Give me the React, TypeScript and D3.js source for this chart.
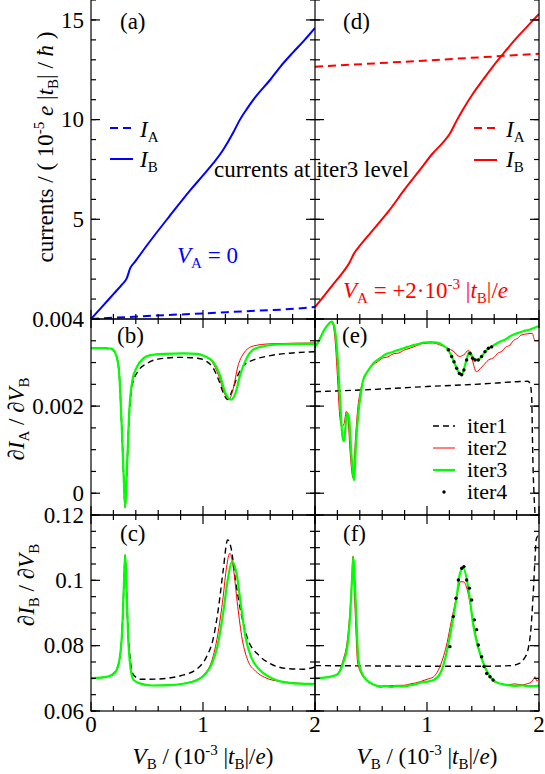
import React from 'react';
import * as d3 from 'd3';

type P = [number, number];

// ---------- data ----------
// panel (a): V_A = 0
const aIA: P[] = [[0, 0], [0.5, 0.15], [1, 0.28], [1.5, 0.42], [1.7, 0.47], [2, 0.6]];
const aIB: P[] = [[0, 0], [0.1, 0.62], [0.2, 1.25], [0.28, 1.75], [0.32, 2.05], [0.35, 2.55], [0.39, 2.85], [0.5, 3.7], [0.7, 5.15], [0.9, 6.55], [1.0, 7.2], [1.09, 7.8], [1.17, 8.4], [1.22, 8.85], [1.27, 9.35], [1.33, 10.0], [1.4, 10.6], [1.45, 11.0], [1.6, 12.0], [1.69, 12.65], [1.8, 13.35], [1.9, 13.95], [2, 14.6]];
// panel (d): V_A = +2e-3
const dIA: P[] = [[0, 12.65], [1, 12.97], [2, 13.3]];
const dIB: P[] = [[0, 0.6], [0.1, 1.3], [0.2, 2.0], [0.27, 2.5], [0.31, 2.85], [0.35, 3.3], [0.39, 3.6], [0.5, 4.35], [0.67, 5.5], [0.8, 6.5], [0.94, 7.5], [1.05, 8.3], [1.15, 8.9], [1.205, 9.3], [1.26, 9.9], [1.32, 10.5], [1.41, 11.3], [1.5, 12.0], [1.6, 12.75], [1.68, 13.3], [1.8, 14.1], [1.9, 14.7], [2, 15.3]];

// panel (b): dIA/dVB, V_A = 0
const bIter1: P[] = [[0, 0.00333], [0.1, 0.00333], [0.18, 0.00332], [0.22, 0.0032], [0.25, 0.0028], [0.27, 0.0018], [0.29, 0.0005], [0.305, -0.0003], [0.32, 0.0005], [0.34, 0.0017], [0.37, 0.0025], [0.42, 0.0028], [0.5, 0.00298], [0.6, 0.00308], [0.8, 0.00312], [0.95, 0.0031], [1.03, 0.00303], [1.09, 0.00288], [1.14, 0.0026], [1.19, 0.00225], [1.22, 0.00215], [1.26, 0.00235], [1.31, 0.0027], [1.37, 0.00295], [1.45, 0.00306], [1.6, 0.00316], [1.8, 0.00322], [2, 0.00325]];
const bIter2: P[] = [[0, 0.00333], [0.1, 0.00333], [0.18, 0.00332], [0.22, 0.0032], [0.25, 0.0028], [0.27, 0.0018], [0.29, 0.0005], [0.305, -0.00033], [0.32, 0.0005], [0.34, 0.0018], [0.37, 0.0026], [0.41, 0.0029], [0.47, 0.0031], [0.53, 0.00317], [0.65, 0.0032], [0.83, 0.00321], [0.95, 0.0032], [1.02, 0.00314], [1.08, 0.00302], [1.14, 0.0027], [1.19, 0.0023], [1.23, 0.00215], [1.27, 0.0024], [1.31, 0.0029], [1.36, 0.0032], [1.45, 0.00338], [1.6, 0.00343], [2, 0.00345]];
const bIter3: P[] = [[0, 0.00333], [0.1, 0.00333], [0.18, 0.00332], [0.22, 0.0032], [0.25, 0.0028], [0.27, 0.0018], [0.29, 0.0005], [0.305, -0.00033], [0.32, 0.0005], [0.34, 0.0018], [0.37, 0.0026], [0.41, 0.0029], [0.47, 0.0031], [0.53, 0.00317], [0.65, 0.0032], [0.83, 0.00321], [0.95, 0.0032], [1.02, 0.00314], [1.09, 0.00302], [1.15, 0.00272], [1.2, 0.0023], [1.25, 0.00215], [1.29, 0.0023], [1.33, 0.0027], [1.38, 0.00305], [1.45, 0.0033], [1.55, 0.00338], [1.7, 0.00342], [1.85, 0.00343], [2, 0.00343]];

// panel (c): dIB/dVB, V_A = 0
const cIter1: P[] = [[0, 0.07], [0.15, 0.0705], [0.22, 0.0722], [0.26, 0.077], [0.28, 0.086], [0.295, 0.1], [0.305, 0.1075], [0.315, 0.1], [0.33, 0.085], [0.35, 0.076], [0.38, 0.071], [0.45, 0.0697], [0.6, 0.0698], [0.8, 0.0708], [0.95, 0.073], [1.03, 0.0765], [1.09, 0.082], [1.14, 0.092], [1.18, 0.103], [1.22, 0.1124], [1.25, 0.11], [1.29, 0.1], [1.34, 0.09], [1.4, 0.082], [1.5, 0.077], [1.6, 0.0745], [1.75, 0.073], [1.9, 0.0728], [2, 0.0735]];
const cIter2: P[] = [[0, 0.07], [0.15, 0.0705], [0.22, 0.072], [0.26, 0.077], [0.28, 0.086], [0.295, 0.1], [0.305, 0.1078], [0.315, 0.1], [0.33, 0.084], [0.35, 0.074], [0.38, 0.0695], [0.45, 0.0683], [0.55, 0.0678], [0.7, 0.0679], [0.85, 0.0686], [0.95, 0.0697], [1.02, 0.0716], [1.08, 0.0755], [1.13, 0.083], [1.18, 0.095], [1.21, 0.104], [1.24, 0.1083], [1.27, 0.104], [1.31, 0.092], [1.35, 0.082], [1.4, 0.0755], [1.47, 0.0722], [1.55, 0.0703], [1.7, 0.069], [2, 0.0683]];
const cIter3: P[] = [[0, 0.07], [0.15, 0.0705], [0.22, 0.072], [0.26, 0.077], [0.28, 0.086], [0.295, 0.1], [0.305, 0.1078], [0.315, 0.1], [0.33, 0.084], [0.35, 0.074], [0.38, 0.0695], [0.45, 0.0683], [0.55, 0.0678], [0.7, 0.0679], [0.85, 0.0685], [0.95, 0.0695], [1.02, 0.0712], [1.08, 0.0745], [1.13, 0.08], [1.18, 0.09], [1.22, 0.1], [1.26, 0.1057], [1.3, 0.102], [1.34, 0.092], [1.38, 0.0825], [1.43, 0.0765], [1.5, 0.0728], [1.6, 0.0703], [1.7, 0.069], [1.85, 0.0684], [2, 0.0683]];

// panel (e): dIA/dVB, V_A = +2e-3
const eIter1: P[] = [[0, 0.00233], [0.5, 0.00238], [1.0, 0.00245], [1.5, 0.00251], [1.8, 0.00256], [1.9, 0.00257], [1.92, 0.00252], [1.935, 0.0022], [1.94, 0.0015], [1.945, 0.0008], [1.955, 0.0], [1.965, -0.0005], [1.975, -0.0009]];
const eIter2: P[] = [[0, 0.00336], [0.04, 0.00355], [0.074, 0.00372], [0.11, 0.00386], [0.14, 0.00394], [0.16, 0.00388], [0.18, 0.0035], [0.2, 0.0027], [0.22, 0.0018], [0.24, 0.00153], [0.26, 0.0016], [0.28, 0.00188], [0.295, 0.0017], [0.315, 0.0009], [0.34, 0.00035], [0.36, 0.0012], [0.38, 0.0019], [0.41, 0.0024], [0.45, 0.0027], [0.52, 0.00295], [0.56, 0.00302], [0.6, 0.0031], [0.65, 0.00313], [0.7, 0.0032], [0.75, 0.00322], [0.79, 0.00328], [0.85, 0.00333], [0.9, 0.00338], [0.97, 0.00344], [1.05, 0.00345], [1.12, 0.0034], [1.18, 0.00334], [1.24, 0.00325], [1.29, 0.00314], [1.33, 0.00318], [1.37, 0.00328], [1.4, 0.0031], [1.44, 0.00279], [1.49, 0.0029], [1.55, 0.00306], [1.6, 0.00312], [1.63, 0.00321], [1.67, 0.00326], [1.7, 0.00335], [1.74, 0.0034], [1.77, 0.0035], [1.81, 0.00356], [1.84, 0.00363], [1.9, 0.00366], [1.94, 0.00367], [1.96, 0.00352], [1.98, 0.0035], [2, 0.00352]];
const eIter3: P[] = [[0, 0.00336], [0.04, 0.00352], [0.074, 0.00371], [0.11, 0.00385], [0.149, 0.00394], [0.17, 0.00385], [0.19, 0.0035], [0.205, 0.003], [0.223, 0.0022], [0.245, 0.0013], [0.259, 0.00119], [0.275, 0.0016], [0.29, 0.00184], [0.305, 0.0017], [0.325, 0.0009], [0.35, 0.0003], [0.365, 0.0011], [0.39, 0.0019], [0.41, 0.0023], [0.43, 0.0026], [0.47, 0.0028], [0.52, 0.00298], [0.58, 0.0031], [0.64, 0.0032], [0.68, 0.00323], [0.72, 0.00327], [0.76, 0.0033], [0.79, 0.00333], [0.84, 0.00337], [0.88, 0.0034], [0.93, 0.00343], [0.97, 0.00346], [1.03, 0.00347], [1.09, 0.00346], [1.14, 0.0034], [1.19, 0.00329], [1.22, 0.00314], [1.241, 0.00302], [1.265, 0.00287], [1.289, 0.00275], [1.31, 0.00272], [1.33, 0.00285], [1.354, 0.00308], [1.38, 0.00325], [1.408, 0.00312], [1.43, 0.00306], [1.458, 0.00306], [1.49, 0.00315], [1.52, 0.00325], [1.55, 0.00333], [1.58, 0.00337], [1.65, 0.00348], [1.7, 0.00353], [1.74, 0.0036], [1.8, 0.00367], [1.86, 0.00372], [1.92, 0.00376], [1.98, 0.00382], [2, 0.00384]];
const eIter4: P[] = [[1.19, 0.00329], [1.22, 0.00314], [1.241, 0.00302], [1.265, 0.00287], [1.289, 0.00275], [1.31, 0.00272], [1.33, 0.00283], [1.354, 0.00306], [1.384, 0.00321], [1.408, 0.0031], [1.429, 0.00306], [1.458, 0.00306], [1.488, 0.00314], [1.518, 0.00325], [1.548, 0.00333], [1.577, 0.00336]];

// panel (f): dIB/dVB, V_A = +2e-3
const fIter1: P[] = [[0, 0.0739], [0.5, 0.0738], [1.0, 0.0737], [1.5, 0.0737], [1.75, 0.0739], [1.82, 0.0745], [1.87, 0.0762], [1.9, 0.0785], [1.93, 0.086], [1.95, 0.097], [1.965, 0.107], [1.975, 0.1125], [1.99, 0.1135], [2, 0.113]];
const fIter2: P[] = [[0, 0.07], [0.1, 0.0703], [0.19, 0.071], [0.25, 0.0755], [0.29, 0.082], [0.315, 0.092], [0.33, 0.101], [0.338, 0.1073], [0.35, 0.098], [0.365, 0.085], [0.38, 0.075], [0.42, 0.071], [0.46, 0.0693], [0.53, 0.068], [0.6, 0.0676], [0.7, 0.0678], [0.8, 0.0679], [0.85, 0.0683], [0.9, 0.0686], [0.94, 0.069], [1.0, 0.0697], [1.06, 0.0705], [1.12, 0.074], [1.18, 0.081], [1.22, 0.088], [1.265, 0.095], [1.3, 0.0996], [1.33, 0.0995], [1.36, 0.097], [1.39, 0.092], [1.42, 0.086], [1.46, 0.0795], [1.52, 0.0735], [1.6, 0.069], [1.66, 0.0684], [1.72, 0.068], [1.78, 0.0683], [1.85, 0.068], [1.9, 0.0684], [1.93, 0.0688], [1.95, 0.0697], [1.965, 0.0705], [1.98, 0.0692], [2, 0.0698]];
const fIter3: P[] = [[0, 0.07], [0.1, 0.0703], [0.19, 0.071], [0.25, 0.0746], [0.29, 0.08], [0.315, 0.09], [0.33, 0.1], [0.342, 0.1073], [0.355, 0.1], [0.37, 0.088], [0.388, 0.0756], [0.42, 0.0715], [0.46, 0.0695], [0.53, 0.068], [0.58, 0.0674], [0.63, 0.0677], [0.68, 0.0673], [0.73, 0.0677], [0.78, 0.0675], [0.84, 0.0678], [0.9, 0.0682], [0.94, 0.0687], [1.0, 0.069], [1.06, 0.0695], [1.12, 0.0716], [1.18, 0.0787], [1.22, 0.0858], [1.265, 0.095], [1.295, 0.1022], [1.324, 0.1037], [1.354, 0.1006], [1.384, 0.094], [1.41, 0.0869], [1.455, 0.0797], [1.515, 0.0736], [1.59, 0.0695], [1.65, 0.0684], [1.71, 0.068], [1.78, 0.0677], [1.85, 0.0678], [1.92, 0.0676], [2, 0.0678]];
const fIter4: P[] = [[1.205, 0.0797], [1.235, 0.0889], [1.259, 0.0945], [1.28, 0.1001], [1.31, 0.1037], [1.33, 0.1042], [1.354, 0.1001], [1.378, 0.0976], [1.399, 0.094], [1.423, 0.0879], [1.443, 0.0849], [1.458, 0.0802], [1.488, 0.0766], [1.509, 0.0736], [1.533, 0.0715], [1.5625, 0.0705], [1.59, 0.0695]];

// ticks
const xMajor = [0, 1, 2];
const xMinor = [0.2, 0.4, 0.6, 0.8, 1.2, 1.4, 1.6, 1.8];
const xLabelsLeft = ['0', '1', '2'];
const xLabelsRight = ['', '1', '2'];
const yMajorA = [0, 5, 10, 15];
const yLabelsA = ['', '5', '10', '15'];
const yMajorB = [0, 0.002, 0.004];
const yLabelsB = ['0', '0.002', '0.004'];
const yMajorC = [0.06, 0.08, 0.1, 0.12];
const yLabelsC = ['0.06', '0.08', '0.1', '0.12'];

// ---------- layout ----------
const W = 545, H = 774;
const FONT = '"Liberation Serif", "DejaVu Serif", "Times New Roman", Times, serif';
const XL0 = 91, XM = 315, XR1 = 539;
const YA0 = -2, YAB = 319, YBC = 515, YC1 = 711;

const xL = d3.scaleLinear().domain([0, 2]).range([XL0, XM]);
const xR = d3.scaleLinear().domain([0, 2]).range([XM, XR1]);
const yA = d3.scaleLinear().domain([0, 16]).range([YAB, 0]);
const yB = d3.scaleLinear().domain([-0.0005, 0.004]).range([YBC, YAB]);
const yC = d3.scaleLinear().domain([0.06, 0.12]).range([YC1, YBC]);

const yMinorA = d3.range(0, 16.001, 1);
const yMinorB = d3.range(-0.0005, 0.00401, 0.0005);
const yMinorC = d3.range(0.06, 0.12001, 0.005);

const BLUE = '#0000ff', RED = '#ff0000', GREEN = '#00ff00';
const MAJ = 9, MIN = 5;

function mkLine(xs: d3.ScaleLinear<number, number>, ys: d3.ScaleLinear<number, number>, data: P[]) {
  return d3.line<P>().x(d => xs(d[0])).y(d => ys(d[1])).curve(d3.curveMonotoneX)(data) || '';
}

function Frame({ xs, ys, yMaj, yMin }: { xs: d3.ScaleLinear<number, number>; ys: d3.ScaleLinear<number, number>; yMaj: number[]; yMin: number[] }) {
  const [x0, x1] = xs.range();
  const [y1, y0] = ys.range();
  const els: React.ReactNode[] = [];
  let k = 0;
  const hTick = (y: number, len: number) => {
    els.push(<line key={k++} x1={x0} x2={x0 + len} y1={y} y2={y} />);
    els.push(<line key={k++} x1={x1} x2={x1 - len} y1={y} y2={y} />);
  };
  const vTick = (x: number, len: number) => {
    els.push(<line key={k++} x1={x} x2={x} y1={y1} y2={y1 - len} />);
    els.push(<line key={k++} x1={x} x2={x} y1={y0} y2={y0 + len} />);
  };
  yMin.forEach(v => hTick(ys(v), MIN));
  yMaj.forEach(v => hTick(ys(v), MAJ));
  xMinor.forEach(v => vTick(xs(v), MIN));
  xMajor.forEach(v => vTick(xs(v), MAJ));
  return (
    <g stroke="#000" strokeWidth={1.2} fill="none">
      <rect x={x0} y={y0} width={x1 - x0} height={y1 - y0} />
      {els}
    </g>
  );
}

function Curves({ xs, ys, it1, it2, it3, it4, clip }: { xs: any; ys: any; it1: P[]; it2: P[]; it3: P[]; it4?: P[]; clip: string }) {
  return (
    <g clipPath={`url(#${clip})`} fill="none">
      <path d={mkLine(xs, ys, it1)} stroke="#000" strokeWidth={1.4} strokeDasharray="6 4" />
      <path d={mkLine(xs, ys, it2)} stroke={RED} strokeWidth={1} />
      <path d={mkLine(xs, ys, it3)} stroke={GREEN} strokeWidth={2.2} />
      {it4 && it4.map((d, i) => <circle key={i} cx={xs(d[0])} cy={ys(d[1])} r={1.7} fill="#000" />)}
    </g>
  );
}

const Sub = ({ children, s = 15, d = 5 }: { children: React.ReactNode; s?: number; d?: number }) => (
  <tspan fontSize={s} dy={d}>{children}</tspan>
);

export default function App() {
  const clips = [
    { id: 'ca', x: XL0, y: -5, w: XM - XL0, h: YAB + 5 },
    { id: 'cd', x: XM, y: -5, w: XR1 - XM, h: YAB + 5 },
    { id: 'cb', x: XL0, y: YAB, w: XM - XL0, h: YBC - YAB },
    { id: 'ce', x: XM, y: YAB, w: XR1 - XM, h: YBC - YAB },
    { id: 'cc', x: XL0, y: YBC, w: XM - XL0, h: YC1 - YBC },
    { id: 'cf', x: XM, y: YBC, w: XR1 - XM, h: YC1 - YBC },
  ];
  return (
    <svg width={W} height={H} style={{ position: 'absolute', left: 0, top: 0, background: '#fff', fontFamily: FONT }}>
      <rect x={0} y={0} width={W} height={H} fill="#fff" />
      <defs>
        {clips.map(c => (
          <clipPath id={c.id} key={c.id}><rect x={c.x} y={c.y} width={c.w} height={c.h} /></clipPath>
        ))}
      </defs>

      {/* panel a */}
      <g clipPath="url(#ca)" fill="none">
        <path d={mkLine(xL, yA, aIA)} stroke={BLUE} strokeWidth={2} strokeDasharray="8 5" />
        <path d={mkLine(xL, yA, aIB)} stroke={BLUE} strokeWidth={2} />
      </g>
      {/* panel d */}
      <g clipPath="url(#cd)" fill="none">
        <path d={mkLine(xR, yA, dIA)} stroke={RED} strokeWidth={2} strokeDasharray="8 5" />
        <path d={mkLine(xR, yA, dIB)} stroke={RED} strokeWidth={2} />
      </g>

      <Curves xs={xL} ys={yB} it1={bIter1} it2={bIter2} it3={bIter3} clip="cb" />
      <Curves xs={xL} ys={yC} it1={cIter1} it2={cIter2} it3={cIter3} clip="cc" />
      <Curves xs={xR} ys={yB} it1={eIter1} it2={eIter2} it3={eIter3} it4={eIter4} clip="ce" />
      <Curves xs={xR} ys={yC} it1={fIter1} it2={fIter2} it3={fIter3} it4={fIter4} clip="cf" />

      {/* frames */}
      <g>
        <g stroke="#000" strokeWidth={1.2}>
          <line x1={XL0} x2={XL0} y1={YA0} y2={YAB} />
          <line x1={XM} x2={XM} y1={YA0} y2={YAB} />
          <line x1={XR1} x2={XR1} y1={YA0} y2={YAB} />
          <line x1={XL0} x2={XR1} y1={YAB} y2={YAB} />
          {yMinorA.map((v, i) => (
            <g key={'ma' + i}>
              <line x1={XL0} x2={XL0 + MIN} y1={yA(v)} y2={yA(v)} />
              <line x1={XM} x2={XM - MIN} y1={yA(v)} y2={yA(v)} />
              <line x1={XM} x2={XM + MIN} y1={yA(v)} y2={yA(v)} />
              <line x1={XR1} x2={XR1 - MIN} y1={yA(v)} y2={yA(v)} />
            </g>
          ))}
          {yMajorA.map((v, i) => (
            <g key={'Ma' + i}>
              <line x1={XL0} x2={XL0 + MAJ} y1={yA(v)} y2={yA(v)} />
              <line x1={XM} x2={XM - MAJ} y1={yA(v)} y2={yA(v)} />
              <line x1={XM} x2={XM + MAJ} y1={yA(v)} y2={yA(v)} />
              <line x1={XR1} x2={XR1 - MAJ} y1={yA(v)} y2={yA(v)} />
            </g>
          ))}
          {xMinor.map((v, i) => (
            <g key={'xa' + i}>
              <line x1={xL(v)} x2={xL(v)} y1={YAB} y2={YAB - MIN} />
              <line x1={xR(v)} x2={xR(v)} y1={YAB} y2={YAB - MIN} />
            </g>
          ))}
          {xMajor.map((v, i) => (
            <g key={'Xa' + i}>
              <line x1={xL(v)} x2={xL(v)} y1={YAB} y2={YAB - MAJ} />
              <line x1={xR(v)} x2={xR(v)} y1={YAB} y2={YAB - MAJ} />
            </g>
          ))}
        </g>
        <Frame xs={xL} ys={yB} yMaj={yMajorB} yMin={yMinorB} />
        <Frame xs={xR} ys={yB} yMaj={yMajorB} yMin={yMinorB} />
        <Frame xs={xL} ys={yC} yMaj={yMajorC} yMin={yMinorC} />
        <Frame xs={xR} ys={yC} yMaj={yMajorC} yMin={yMinorC} />
      </g>

      {/* tick labels */}
      <g fontSize={23} fill="#000" textAnchor="end">
        {yMajorA.map((v, i) => <text key={'la' + i} x={84} y={yA(v)} dy="0.34em">{yLabelsA[i]}</text>)}
        {yMajorB.map((v, i) => <text key={'lb' + i} x={84} y={yB(v)} dy="0.34em">{yLabelsB[i]}</text>)}
        {yMajorC.map((v, i) => <text key={'lc' + i} x={84} y={yC(v)} dy="0.34em">{yLabelsC[i]}</text>)}
      </g>
      <g fontSize={23} fill="#000" textAnchor="middle">
        {xMajor.map((v, i) => <text key={'xl' + i} x={xL(v)} y={732}>{xLabelsLeft[i]}</text>)}
        {xMajor.map((v, i) => <text key={'xr' + i} x={xR(v)} y={732}>{xLabelsRight[i]}</text>)}
      </g>

      {/* panel labels */}
      <g fontSize={23} fill="#000">
        <text x={120} y={29}>(a)</text>
        <text x={343} y={29}>(d)</text>
        <text x={117} y={343}>(b)</text>
        <text x={342} y={343}>(e)</text>
        <text x={120} y={541}>(c)</text>
        <text x={343} y={541}>(f)</text>
        <text x={214} y={177}>currents at iter3 level</text>
      </g>

      {/* legends a and d */}
      <g fontSize={23}>
        <line x1={110} x2={133} y1={128} y2={128} stroke={BLUE} strokeWidth={2} strokeDasharray="8 5" />
        <line x1={110} x2={133} y1={159} y2={159} stroke={BLUE} strokeWidth={2} />
        <text x={140} y={137}><tspan fontStyle="italic">I</tspan><Sub>A</Sub></text>
        <text x={140} y={167}><tspan fontStyle="italic">I</tspan><Sub>B</Sub></text>
        <line x1={474} x2={497} y1={128} y2={128} stroke={RED} strokeWidth={2} strokeDasharray="8 5" />
        <line x1={474} x2={497} y1={160} y2={160} stroke={RED} strokeWidth={2} />
        <text x={506} y={137}><tspan fontStyle="italic">I</tspan><Sub>A</Sub></text>
        <text x={506} y={167}><tspan fontStyle="italic">I</tspan><Sub>B</Sub></text>
        <text x={177} y={263} fill={BLUE}><tspan fontStyle="italic">V</tspan><Sub>A</Sub><tspan dy={-5}>{' = 0'}</tspan></text>
        <text x={343} y={298} fill={RED}>
          <tspan fontStyle="italic">V</tspan><Sub>A</Sub><tspan dy={-5}>{' = +2·10'}</tspan>
          <tspan fontSize={15} dy={-9}>-3</tspan><tspan dy={9}>{' |'}</tspan><tspan fontStyle="italic">t</tspan><Sub>B</Sub>
          <tspan dy={-5}>{'|/'}</tspan><tspan fontStyle="italic">e</tspan>
        </text>
      </g>

      {/* legend e */}
      <g fontSize={22}>
        <line x1={433} x2={455} y1={426} y2={426} stroke="#000" strokeWidth={1.4} strokeDasharray="6 4" />
        <line x1={433} x2={455} y1={448} y2={448} stroke={RED} strokeWidth={1} />
        <line x1={433} x2={455} y1={470} y2={470} stroke={GREEN} strokeWidth={2.2} />
        <circle cx={444} cy={492} r={1.7} fill="#000" />
        <text x={467} y={433}>iter1</text>
        <text x={467} y={455}>iter2</text>
        <text x={467} y={477}>iter3</text>
        <text x={467} y={499}>iter4</text>
      </g>

      {/* axis titles */}
      <g fontSize={23} fill="#000" textAnchor="middle">
        <text transform="translate(53,147) rotate(-90)">
          {'currents / ( 10'}<tspan fontSize={15} dy={-9}>-5</tspan><tspan dy={9}>{' '}</tspan>
          <tspan fontStyle="italic">e</tspan>{' |'}<tspan fontStyle="italic">t</tspan><Sub>B</Sub>
          <tspan dy={-5}>{'| / '}</tspan><tspan fontStyle="italic">ħ</tspan>{' )'}
        </text>
        <text transform="translate(24,419) rotate(-90)">
          {'∂'}<tspan fontStyle="italic">I</tspan><Sub>A</Sub><tspan dy={-5}>{' / ∂'}</tspan>
          <tspan fontStyle="italic">V</tspan><Sub>B</Sub>
        </text>
        <text transform="translate(34,585) rotate(-90)">
          {'∂'}<tspan fontStyle="italic">I</tspan><Sub>B</Sub><tspan dy={-5}>{' / ∂'}</tspan>
          <tspan fontStyle="italic">V</tspan><Sub>B</Sub>
        </text>
        {[203, 427].map(cx => (
          <text key={cx} x={cx} y={764}>
            <tspan fontStyle="italic">V</tspan><Sub>B</Sub><tspan dy={-5}>{' / (10'}</tspan>
            <tspan fontSize={15} dy={-9}>-3</tspan><tspan dy={9}>{' |'}</tspan>
            <tspan fontStyle="italic">t</tspan><Sub>B</Sub><tspan dy={-5}>{'|/'}</tspan>
            <tspan fontStyle="italic">e</tspan>{')'}
          </text>
        ))}
      </g>
    </svg>
  );
}
